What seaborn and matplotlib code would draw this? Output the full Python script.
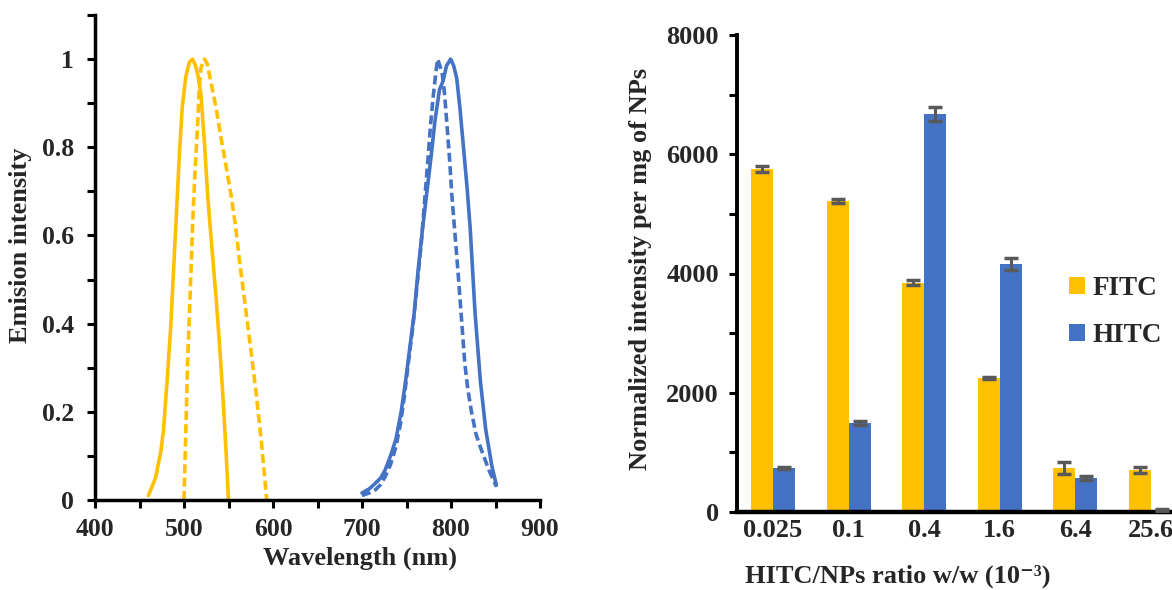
import matplotlib
matplotlib.use("Agg")
import matplotlib.pyplot as plt
import numpy as np
import pandas as pd
import seaborn as sns
from matplotlib.ticker import MultipleLocator, FixedLocator
from matplotlib.patches import Patch

# ---------------- data: emission spectra ----------------
fitc_solid_x = [460, 464, 468, 470, 474, 477, 481, 485, 489, 492.5, 495, 498, 502, 506, 509.5, 513, 516, 519, 523, 526.6, 531, 536, 540, 543.6, 547, 550]
fitc_solid_y = [0.01, 0.03, 0.05, 0.07, 0.11, 0.16, 0.27, 0.39, 0.55, 0.69, 0.79, 0.89, 0.96, 0.993, 1.0, 0.985, 0.96, 0.92, 0.81, 0.69, 0.58, 0.46, 0.35, 0.24, 0.12, 0.0]

fitc_dash_x = [500, 502, 504, 507, 509.5, 512, 515, 517, 519, 521, 523, 526, 530, 536, 541.7, 547, 553, 558, 562.5, 567, 572, 577, 581.5, 587, 593]
fitc_dash_y = [0.0, 0.15, 0.31, 0.47, 0.615, 0.73, 0.84, 0.93, 0.98, 0.99, 1.0, 0.99, 0.95, 0.89, 0.82, 0.76, 0.69, 0.62, 0.54, 0.47, 0.39, 0.31, 0.235, 0.13, 0.0]

hitc_solid_x = [700, 708, 715, 721, 726, 732, 738, 744, 749, 754, 758.7, 763, 768, 773, 777.7, 782, 787, 791, 795, 799.6, 803, 806.4, 810, 814, 818, 821.6, 827, 833, 839, 846, 851]
hitc_solid_y = [0.016, 0.025, 0.038, 0.05, 0.068, 0.1, 0.137, 0.2, 0.27, 0.35, 0.425, 0.52, 0.615, 0.70, 0.78, 0.86, 0.93, 0.95, 0.985, 1.0, 0.985, 0.957, 0.89, 0.80, 0.71, 0.615, 0.425, 0.27, 0.16, 0.076, 0.034]

hitc_dash_x = [700, 708, 715, 721, 726, 732, 738, 743, 747.6, 752, 757, 762, 766.5, 770, 774, 777, 780, 783, 785, 787.5, 790, 792.8, 795.5, 798.5, 801, 804, 807, 810, 815.5, 819, 823, 828, 833, 842.6, 851]
hitc_dash_y = [0.01, 0.016, 0.023, 0.035, 0.053, 0.08, 0.12, 0.17, 0.235, 0.31, 0.39, 0.49, 0.58, 0.67, 0.77, 0.85, 0.915, 0.97, 1.0, 0.985, 0.97, 0.92, 0.85, 0.77, 0.69, 0.615, 0.54, 0.46, 0.31, 0.25, 0.2, 0.15, 0.12, 0.068, 0.03]

# ---------------- data: bars ----------------
ratios = ["0.025", "0.1", "0.4", "1.6", "6.4", "25.6"]
fitc_vals = [5750, 5215, 3845, 2250, 738, 704]
fitc_err = [55, 30, 40, 15, 95, 55]
hitc_vals = [738, 1493, 6675, 4155, 570, 34]
hitc_err = [25, 30, 120, 100, 35, 10]
series = ["FITC", "HITC"]

YELLOW = "#FFC000"
BLUE = "#4472C4"
ERRC = "#595959"

sns.set_theme(style="ticks")
plt.rcParams["font.family"] = ["Liberation Serif", "DejaVu Serif"]
plt.rcParams["font.weight"] = "bold"
plt.rcParams["axes.labelweight"] = "bold"

fig = plt.figure(figsize=(11.72, 5.90), dpi=100)
fig.patch.set_facecolor("white")

# ---------------- left panel ----------------
ax1 = fig.add_axes([95 / 1172, 1 - 500 / 590, 445 / 1172, 485 / 590])
lw = 2.6
sns.lineplot(x=fitc_solid_x, y=fitc_solid_y, ax=ax1, color=YELLOW, lw=lw, sort=False)
sns.lineplot(x=fitc_dash_x, y=fitc_dash_y, ax=ax1, color=YELLOW, lw=lw, sort=False)
sns.lineplot(x=hitc_solid_x, y=hitc_solid_y, ax=ax1, color=BLUE, lw=lw, sort=False)
sns.lineplot(x=hitc_dash_x, y=hitc_dash_y, ax=ax1, color=BLUE, lw=lw, sort=False)
lines = ax1.get_lines()
for i in (1, 3):
    lines[i].set_dashes([2.5, 1.2])
for ln in lines:
    ln.set_solid_capstyle("round")
    ln.set_solid_joinstyle("round")
    ln.set_dash_capstyle("butt")

ax1.set_xlim(400, 900)
ax1.set_ylim(0, 1.1)
ax1.xaxis.set_major_locator(MultipleLocator(100))
ax1.xaxis.set_minor_locator(MultipleLocator(50))
ax1.yaxis.set_major_locator(FixedLocator([0, 0.2, 0.4, 0.6, 0.8, 1.0]))
ax1.yaxis.set_minor_locator(FixedLocator([0.1, 0.3, 0.5, 0.7, 0.9, 1.1]))
ax1.set_yticklabels(["0", "0.2", "0.4", "0.6", "0.8", "1"])
ax1.set_xlabel("Wavelength (nm)", fontsize=19, fontweight="bold")
ax1.set_ylabel("Emision intensity", fontsize=19, fontweight="bold")
ax1.xaxis.set_label_coords(0.595, -0.097)
ax1.yaxis.set_label_coords(-0.142, 0.526)
for lab in ax1.get_xticklabels() + ax1.get_yticklabels():
    lab.set_fontweight("bold")
ax1.tick_params(axis="both", which="both", direction="out", length=6, width=2.2,
                color="black", labelsize=18.5)
ax1.tick_params(axis="x", pad=7)
ax1.tick_params(axis="y", pad=9)
for s in ("top", "right"):
    ax1.spines[s].set_visible(False)
for s in ("left", "bottom"):
    ax1.spines[s].set_linewidth(2.5)
    ax1.spines[s].set_color("black")

# ---------------- right panel ----------------
ax2 = fig.add_axes([737 / 1172, 1 - 512 / 590, 435 / 1172, 477 / 590])
df = pd.DataFrame({
    "ratio": ratios * 2,
    "value": fitc_vals + hitc_vals,
    "dye": [series[0]] * len(ratios) + [series[1]] * len(ratios),
})
sns.barplot(data=df, x="ratio", y="value", hue="dye", order=ratios, hue_order=series,
            palette=[YELLOW, BLUE], width=0.58, dodge=True, saturation=1,
            errorbar=None, legend=False, ax=ax2, linewidth=0)
errs = [fitc_err, hitc_err]
for cont, err in zip(ax2.containers, errs):
    xs = [p.get_x() + p.get_width() / 2 for p in cont.patches]
    ys = [p.get_height() for p in cont.patches]
    ax2.errorbar(xs, ys, yerr=err, fmt="none", ecolor=ERRC, elinewidth=2.2,
                 capsize=5, capthick=2.5, zorder=5, clip_on=True)

ax2.set_xlim(-0.477, 5.28)
ax2.set_ylim(0, 8000)
ax2.yaxis.set_major_locator(MultipleLocator(2000))
ax2.yaxis.set_minor_locator(MultipleLocator(1000))
ax2.tick_params(axis="y", which="both", direction="out", length=6, width=2.2,
                color="black", labelsize=19, pad=7)
ax2.tick_params(axis="x", which="both", length=0, labelsize=19, pad=5)
for lab in ax2.get_xticklabels() + ax2.get_yticklabels():
    lab.set_fontweight("bold")
ax2.set_xlabel("HITC/NPs ratio w/w (10\u207b\u00b3)", fontsize=19, fontweight="bold")
ax2.set_ylabel("Normalized intensity per mg of NPs", fontsize=19, fontweight="bold")
ax2.xaxis.set_label_coords(0.37, -0.11)
ax2.yaxis.set_label_coords(-0.195, 0.51)
for s in ("top", "right"):
    ax2.spines[s].set_visible(False)
ax2.spines["left"].set_linewidth(2.8)
ax2.spines["bottom"].set_linewidth(3.2)
for s in ("left", "bottom"):
    ax2.spines[s].set_color("black")

handles = [Patch(facecolor=YELLOW, edgecolor="none"), Patch(facecolor=BLUE, edgecolor="none")]
fig.legend(handles, series, loc="center left", bbox_to_anchor=(1055 / 1172, 1 - 312 / 590),
           frameon=False, handlelength=0.6, handleheight=0.6,
           handletextpad=0.3, labelspacing=0.8, borderpad=0,
           prop={"weight": "bold", "size": 19.5})

fig.savefig("out.png", dpi=100, facecolor="white")
